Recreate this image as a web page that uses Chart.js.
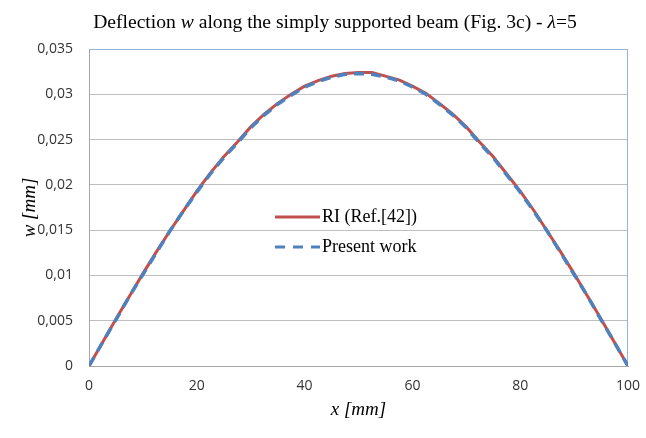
<!DOCTYPE html>
<html>
<head>
<meta charset="utf-8">
<script src="https://cdn.jsdelivr.net/npm/chart.js@4/dist/chart.umd.min.js"></script>
<style>
  html, body { margin: 0; padding: 0; background: #fff; }
  #wrap { width: 646px; height: 438px; }
</style>
</head>
<body>
<div id="wrap"><canvas id="chart" width="646" height="438"></canvas></div>
<script>
// x positions along the beam [mm]
const xValues = [0, 2.5, 5, 7.5, 10, 12.5, 15, 17.5, 20, 22.5, 25, 27.5, 30, 32.5, 35, 37.5, 40, 42.5, 45, 47.5,
  50, 52.5, 55, 57.5, 60, 62.5, 65, 67.5, 70, 72.5, 75, 77.5, 80, 82.5, 85, 87.5, 90, 92.5, 95, 97.5, 100];

// RI (Ref.[42])
const riRef = [0, 0.0026, 0.0052, 0.0077, 0.0102, 0.0126, 0.0149, 0.0171, 0.0193, 0.0213, 0.0231, 0.0247, 0.0264,
  0.0278, 0.0290, 0.0300, 0.0309, 0.0315, 0.0320, 0.0323, 0.0324, 0.0324, 0.0320, 0.0316, 0.0309, 0.0301, 0.0290,
  0.0278, 0.0264, 0.0247, 0.0231, 0.0212, 0.0193, 0.0172, 0.0149, 0.0126, 0.0102, 0.0077, 0.0052, 0.0026, 0];

// Present work - blue dashed curve
const presentWork = [0, 0.0026, 0.0051, 0.0077, 0.0101, 0.0125, 0.0149, 0.0171, 0.0192, 0.0212, 0.0230, 0.0246,
  0.0263, 0.0277, 0.0289, 0.0299, 0.0308, 0.0314, 0.0319, 0.0322, 0.0323, 0.0322, 0.0319, 0.0315, 0.0308, 0.0300,
  0.0289, 0.0277, 0.0263, 0.0246, 0.0230, 0.0211, 0.0192, 0.0171, 0.0149, 0.0125, 0.0101, 0.0077, 0.0051, 0.0026, 0];

const xTicks = [0, 20, 40, 60, 80, 100];
const yTickLabels = ['0', '0,005', '0,01', '0,015', '0,02', '0,025', '0,03', '0,035'];

const RED = '#c0504d';
const BLUE = '#4f81bd';
const SERIF = '"Liberation Serif", "Times New Roman", serif';

const toPoints = arr => arr.map((v, i) => ({ x: xValues[i], y: v }));

// title with italic pieces, Excel-style
const titlePlugin = {
  id: 'mixedTitle',
  afterDraw(chart) {
    const ctx = chart.ctx;
    const parts = [
      ['Deflection ', false], ['w', true], [' along the simply supported beam (Fig. 3c) - ', false],
      ['\u03bb', true], ['=5', false]
    ];
    ctx.save();
    ctx.fillStyle = '#000';
    ctx.textBaseline = 'alphabetic';
    let total = 0;
    parts.forEach(p => {
      ctx.font = (p[1] ? 'italic ' : '') + '19.6px ' + SERIF;
      total += ctx.measureText(p[0]).width;
    });
    let x = 335 - total / 2;
    parts.forEach(p => {
      ctx.font = (p[1] ? 'italic ' : '') + '19.6px ' + SERIF;
      ctx.fillText(p[0], x, 28);
      x += ctx.measureText(p[0]).width;
    });
    ctx.restore();
  }
};

// light blue frame on top and right of plot area
const framePlugin = {
  id: 'frame',
  beforeDatasetsDraw(chart) {
    const { ctx, chartArea: a } = chart;
    ctx.save();
    ctx.strokeStyle = '#95b3d7';
    ctx.lineWidth = 1;
    ctx.beginPath();
    ctx.moveTo(a.left, a.top + 0.5);
    ctx.lineTo(a.right - 0.5, a.top + 0.5);
    ctx.lineTo(a.right - 0.5, a.bottom);
    ctx.stroke();
    ctx.restore();
  }
};

// legend inside the plot
const legendPlugin = {
  id: 'innerLegend',
  afterDraw(chart) {
    const { ctx, chartArea: a } = chart;
    const lx = a.left + 186, tx = a.left + 233;
    const rows = [
      { label: 'RI (Ref.[42])', color: RED, dash: [], y: a.top + 168 },
      { label: 'Present work', color: BLUE, dash: [10, 8], y: a.top + 198 }
    ];
    ctx.save();
    rows.forEach(r => {
      ctx.strokeStyle = r.color;
      ctx.lineWidth = 3;
      ctx.setLineDash(r.dash);
      ctx.beginPath();
      ctx.moveTo(lx, r.y);
      ctx.lineTo(lx + 45, r.y);
      ctx.stroke();
      ctx.setLineDash([]);
      ctx.fillStyle = '#000';
      ctx.font = '18px ' + SERIF;
      ctx.textBaseline = 'middle';
      ctx.fillText(r.label, tx, r.y);
    });
    ctx.restore();
  }
};

new Chart(document.getElementById('chart'), {
  type: 'line',
  data: {
    datasets: [
      {
        label: 'RI (Ref.[42])',
        data: toPoints(riRef),
        borderColor: RED,
        borderWidth: 3,
        pointRadius: 0,
        tension: 0,
        fill: false,
        order: 2
      },
      {
        label: 'Present work',
        data: toPoints(presentWork),
        borderColor: BLUE,
        borderWidth: 3.5,
        borderDash: [10, 7],
        pointRadius: 0,
        tension: 0,
        fill: false,
        order: 1
      }
    ]
  },
  options: {
    responsive: false,
    animation: false,
    layout: { padding: { top: 49, right: 18, left: 0, bottom: 0 } },
    plugins: {
      legend: { display: false },
      tooltip: { enabled: false }
    },
    scales: {
      x: {
        type: 'linear',
        min: 0,
        max: 100,
        afterFit: s => { s.height = 72; s.paddingRight = 0; s.paddingLeft = 0; },
        afterBuildTicks: s => { s.ticks = xTicks.map(v => ({ value: v })); },
        grid: { display: false, drawTicks: false },
        border: { color: '#a6a6a6', width: 1 },
        ticks: {
          padding: 12,
          color: '#333',
          font: { family: '"Open Sans", sans-serif', size: 14 },
          maxRotation: 0
        },
        title: {
          display: true,
          text: 'x [mm]',
          color: '#000',
          font: { family: SERIF, size: 19, style: 'italic' },
          padding: { top: 0, bottom: 17 }
        }
      },
      y: {
        min: 0,
        max: 0.035,
        afterFit: s => { s.width = 89; s.paddingTop = 0; s.paddingBottom = 0; },
        afterBuildTicks: s => { s.ticks = yTickLabels.map((t, i) => ({ value: i * 0.005 })); },
        grid: { color: '#bfbfbf', lineWidth: 1, drawTicks: false },
        border: { color: '#a6a6a6', width: 1 },
        ticks: {
          padding: 16,
          color: '#333',
          font: { family: '"Open Sans", sans-serif', size: 14 },
          callback: (v, i) => yTickLabels[i]
        },
        title: {
          display: true,
          text: 'w [mm]',
          color: '#000',
          font: { family: SERIF, size: 19, style: 'italic' },
          padding: { top: 19, bottom: 0 }
        }
      }
    }
  },
  plugins: [titlePlugin, framePlugin, legendPlugin]
});
</script>
</body>
</html>
